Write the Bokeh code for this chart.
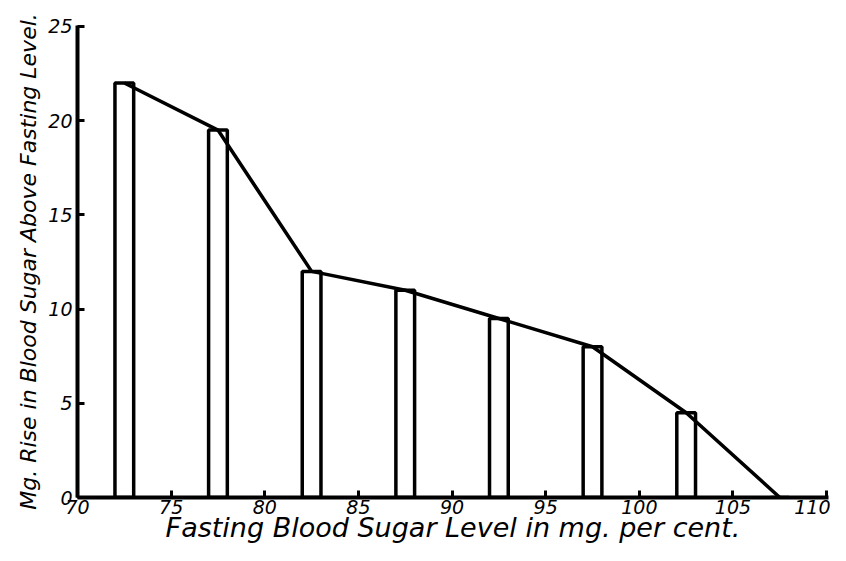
from bokeh.plotting import figure
from bokeh.models import Range1d, FixedTicker
from bokeh.embed import file_html
from bokeh.resources import INLINE

# Data
bar_left = [72, 77, 82, 87, 92, 97, 102, 107]
bar_right = [73, 78, 83, 88, 93, 98, 103, 108]
rise = [22, 19.5, 12, 11, 9.5, 8, 4.5, 0]
x_ticks = [70, 75, 80, 85, 90, 95, 100, 105, 110]
y_ticks = [0, 5, 10, 15, 20, 25]

mid = [(a + b) / 2 for a, b in zip(bar_left, bar_right)]

FONT = "DejaVu Sans"

p = figure(width=830, height=545, output_backend="svg", toolbar_location=None,
           x_range=Range1d(70, 110.1), y_range=Range1d(0, 25.05),
           min_border_left=77, min_border_right=2, min_border_top=25, min_border_bottom=42)

p.outline_line_color = None
p.xgrid.visible = False
p.ygrid.visible = False
p.background_fill_color = "white"
p.border_fill_color = "white"

p.quad(left=bar_left, right=bar_right, bottom=0, top=rise,
       fill_color=None, line_color="black", line_width=3.5)
p.line(mid, rise, line_color="black", line_width=3.5)

for ax in (p.xaxis[0], p.yaxis[0]):
    ax.axis_line_width = 4
    ax.axis_line_color = "black"
    ax.major_tick_in = 7
    ax.major_tick_out = 0
    ax.major_tick_line_width = 3
    ax.minor_tick_line_color = None
    ax.major_label_text_font = FONT
    ax.major_label_text_font_style = "italic"
    ax.major_label_text_font_size = "19px"
    ax.major_label_text_color = "black"
    ax.axis_label_text_font = FONT
    ax.axis_label_text_font_style = "italic"
    ax.axis_label_text_color = "black"

p.xaxis[0].ticker = FixedTicker(ticks=x_ticks)
p.yaxis[0].ticker = FixedTicker(ticks=y_ticks)
p.xaxis[0].major_label_standoff = 2
p.yaxis[0].major_label_standoff = 5

p.xaxis[0].axis_label = "Fasting Blood Sugar Level in mg. per cent."
p.xaxis[0].axis_label_text_font_size = "27px"
p.xaxis[0].axis_label_standoff = -5
p.yaxis[0].axis_label = "Mg. Rise in Blood Sugar Above Fasting Level."
p.yaxis[0].axis_label_text_font_size = "22px"
p.yaxis[0].axis_label_standoff = 4

open("out.html", "w").write(file_html(p, INLINE))
